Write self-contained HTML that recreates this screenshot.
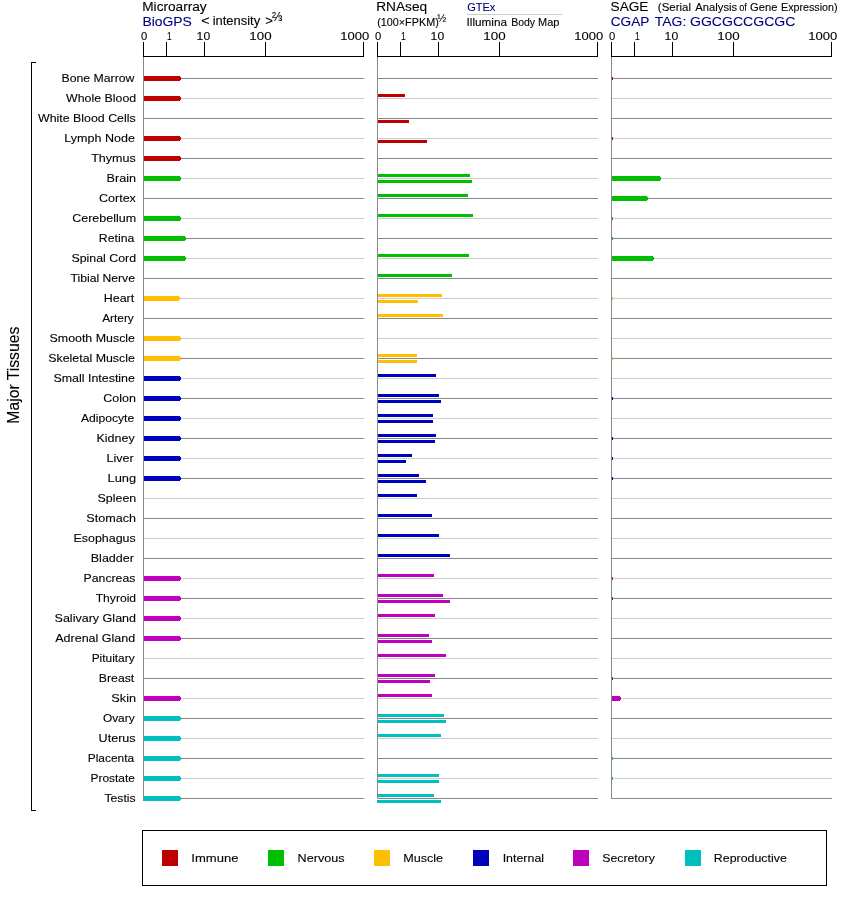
<!DOCTYPE html>
<html lang="en"><head><meta charset="utf-8"><title>Expression in Major Tissues</title>
<style>
html,body{margin:0;padding:0;background:#fff;}
svg{display:block;}
text{font-family:"Liberation Sans", Arial, Helvetica, sans-serif;white-space:pre;}
</style></head><body>
<svg width="842" height="900" viewBox="0 0 842 900">
<rect width="842" height="900" fill="#fff"/>
<g shape-rendering="crispEdges">
<rect x="31" y="62" width="1" height="749" fill="#000"/><rect x="31" y="62" width="5" height="1" fill="#000"/><rect x="31" y="810" width="5" height="1" fill="#000"/>
<rect x="467" y="14" width="95" height="1" fill="#cccccc"/>
<rect x="143" y="57" width="1" height="742" fill="#888888"/><rect x="144" y="78" width="220" height="1" fill="#888888"/><rect x="144" y="98" width="220" height="1" fill="#cccccc"/><rect x="144" y="118" width="220" height="1" fill="#888888"/><rect x="144" y="138" width="220" height="1" fill="#cccccc"/><rect x="144" y="158" width="220" height="1" fill="#888888"/><rect x="144" y="178" width="220" height="1" fill="#cccccc"/><rect x="144" y="198" width="220" height="1" fill="#888888"/><rect x="144" y="218" width="220" height="1" fill="#cccccc"/><rect x="144" y="238" width="220" height="1" fill="#888888"/><rect x="144" y="258" width="220" height="1" fill="#cccccc"/><rect x="144" y="278" width="220" height="1" fill="#888888"/><rect x="144" y="298" width="220" height="1" fill="#cccccc"/><rect x="144" y="318" width="220" height="1" fill="#888888"/><rect x="144" y="338" width="220" height="1" fill="#cccccc"/><rect x="144" y="358" width="220" height="1" fill="#888888"/><rect x="144" y="378" width="220" height="1" fill="#cccccc"/><rect x="144" y="398" width="220" height="1" fill="#888888"/><rect x="144" y="418" width="220" height="1" fill="#cccccc"/><rect x="144" y="438" width="220" height="1" fill="#888888"/><rect x="144" y="458" width="220" height="1" fill="#cccccc"/><rect x="144" y="478" width="220" height="1" fill="#888888"/><rect x="144" y="498" width="220" height="1" fill="#cccccc"/><rect x="144" y="518" width="220" height="1" fill="#888888"/><rect x="144" y="538" width="220" height="1" fill="#cccccc"/><rect x="144" y="558" width="220" height="1" fill="#888888"/><rect x="144" y="578" width="220" height="1" fill="#cccccc"/><rect x="144" y="598" width="220" height="1" fill="#888888"/><rect x="144" y="618" width="220" height="1" fill="#cccccc"/><rect x="144" y="638" width="220" height="1" fill="#888888"/><rect x="144" y="658" width="220" height="1" fill="#cccccc"/><rect x="144" y="678" width="220" height="1" fill="#888888"/><rect x="144" y="698" width="220" height="1" fill="#cccccc"/><rect x="144" y="718" width="220" height="1" fill="#888888"/><rect x="144" y="738" width="220" height="1" fill="#cccccc"/><rect x="144" y="758" width="220" height="1" fill="#888888"/><rect x="144" y="778" width="220" height="1" fill="#cccccc"/><rect x="144" y="798" width="220" height="1" fill="#888888"/><rect x="143" y="56" width="221" height="1" fill="#000"/><rect x="143" y="42" width="1" height="14" fill="#000"/><rect x="166" y="42" width="1" height="14" fill="#000"/><rect x="204" y="42" width="1" height="14" fill="#000"/><rect x="265" y="42" width="1" height="14" fill="#000"/><rect x="363" y="42" width="1" height="14" fill="#000"/>
<rect x="377" y="57" width="1" height="742" fill="#888888"/><rect x="378" y="78" width="220" height="1" fill="#888888"/><rect x="378" y="98" width="220" height="1" fill="#cccccc"/><rect x="378" y="118" width="220" height="1" fill="#888888"/><rect x="378" y="138" width="220" height="1" fill="#cccccc"/><rect x="378" y="158" width="220" height="1" fill="#888888"/><rect x="378" y="178" width="220" height="1" fill="#cccccc"/><rect x="378" y="198" width="220" height="1" fill="#888888"/><rect x="378" y="218" width="220" height="1" fill="#cccccc"/><rect x="378" y="238" width="220" height="1" fill="#888888"/><rect x="378" y="258" width="220" height="1" fill="#cccccc"/><rect x="378" y="278" width="220" height="1" fill="#888888"/><rect x="378" y="298" width="220" height="1" fill="#cccccc"/><rect x="378" y="318" width="220" height="1" fill="#888888"/><rect x="378" y="338" width="220" height="1" fill="#cccccc"/><rect x="378" y="358" width="220" height="1" fill="#888888"/><rect x="378" y="378" width="220" height="1" fill="#cccccc"/><rect x="378" y="398" width="220" height="1" fill="#888888"/><rect x="378" y="418" width="220" height="1" fill="#cccccc"/><rect x="378" y="438" width="220" height="1" fill="#888888"/><rect x="378" y="458" width="220" height="1" fill="#cccccc"/><rect x="378" y="478" width="220" height="1" fill="#888888"/><rect x="378" y="498" width="220" height="1" fill="#cccccc"/><rect x="378" y="518" width="220" height="1" fill="#888888"/><rect x="378" y="538" width="220" height="1" fill="#cccccc"/><rect x="378" y="558" width="220" height="1" fill="#888888"/><rect x="378" y="578" width="220" height="1" fill="#cccccc"/><rect x="378" y="598" width="220" height="1" fill="#888888"/><rect x="378" y="618" width="220" height="1" fill="#cccccc"/><rect x="378" y="638" width="220" height="1" fill="#888888"/><rect x="378" y="658" width="220" height="1" fill="#cccccc"/><rect x="378" y="678" width="220" height="1" fill="#888888"/><rect x="378" y="698" width="220" height="1" fill="#cccccc"/><rect x="378" y="718" width="220" height="1" fill="#888888"/><rect x="378" y="738" width="220" height="1" fill="#cccccc"/><rect x="378" y="758" width="220" height="1" fill="#888888"/><rect x="378" y="778" width="220" height="1" fill="#cccccc"/><rect x="378" y="798" width="220" height="1" fill="#888888"/><rect x="377" y="56" width="221" height="1" fill="#000"/><rect x="377" y="42" width="1" height="14" fill="#000"/><rect x="400" y="42" width="1" height="14" fill="#000"/><rect x="438" y="42" width="1" height="14" fill="#000"/><rect x="499" y="42" width="1" height="14" fill="#000"/><rect x="597" y="42" width="1" height="14" fill="#000"/>
<rect x="611" y="57" width="1" height="742" fill="#888888"/><rect x="612" y="78" width="220" height="1" fill="#888888"/><rect x="612" y="98" width="220" height="1" fill="#cccccc"/><rect x="612" y="118" width="220" height="1" fill="#888888"/><rect x="612" y="138" width="220" height="1" fill="#cccccc"/><rect x="612" y="158" width="220" height="1" fill="#888888"/><rect x="612" y="178" width="220" height="1" fill="#cccccc"/><rect x="612" y="198" width="220" height="1" fill="#888888"/><rect x="612" y="218" width="220" height="1" fill="#cccccc"/><rect x="612" y="238" width="220" height="1" fill="#888888"/><rect x="612" y="258" width="220" height="1" fill="#cccccc"/><rect x="612" y="278" width="220" height="1" fill="#888888"/><rect x="612" y="298" width="220" height="1" fill="#cccccc"/><rect x="612" y="318" width="220" height="1" fill="#888888"/><rect x="612" y="338" width="220" height="1" fill="#cccccc"/><rect x="612" y="358" width="220" height="1" fill="#888888"/><rect x="612" y="378" width="220" height="1" fill="#cccccc"/><rect x="612" y="398" width="220" height="1" fill="#888888"/><rect x="612" y="418" width="220" height="1" fill="#cccccc"/><rect x="612" y="438" width="220" height="1" fill="#888888"/><rect x="612" y="458" width="220" height="1" fill="#cccccc"/><rect x="612" y="478" width="220" height="1" fill="#888888"/><rect x="612" y="498" width="220" height="1" fill="#cccccc"/><rect x="612" y="518" width="220" height="1" fill="#888888"/><rect x="612" y="538" width="220" height="1" fill="#cccccc"/><rect x="612" y="558" width="220" height="1" fill="#888888"/><rect x="612" y="578" width="220" height="1" fill="#cccccc"/><rect x="612" y="598" width="220" height="1" fill="#888888"/><rect x="612" y="618" width="220" height="1" fill="#cccccc"/><rect x="612" y="638" width="220" height="1" fill="#888888"/><rect x="612" y="658" width="220" height="1" fill="#cccccc"/><rect x="612" y="678" width="220" height="1" fill="#888888"/><rect x="612" y="698" width="220" height="1" fill="#cccccc"/><rect x="612" y="718" width="220" height="1" fill="#888888"/><rect x="612" y="738" width="220" height="1" fill="#cccccc"/><rect x="612" y="758" width="220" height="1" fill="#888888"/><rect x="612" y="778" width="220" height="1" fill="#cccccc"/><rect x="612" y="798" width="220" height="1" fill="#888888"/><rect x="611" y="56" width="221" height="1" fill="#000"/><rect x="611" y="42" width="1" height="14" fill="#000"/><rect x="634" y="42" width="1" height="14" fill="#000"/><rect x="672" y="42" width="1" height="14" fill="#000"/><rect x="733" y="42" width="1" height="14" fill="#000"/><rect x="831" y="42" width="1" height="14" fill="#000"/>
<rect x="144" y="76" width="36" height="5" fill="#bf0000"/><rect x="180" y="77" width="1" height="3" fill="#bf0000"/><rect x="612" y="77" width="1" height="3" fill="#bf0000"/>
<rect x="144" y="96" width="36" height="5" fill="#bf0000"/><rect x="180" y="97" width="1" height="3" fill="#bf0000"/><rect x="378" y="94" width="27" height="3" fill="#bf0000"/>
<rect x="378" y="120" width="31" height="3" fill="#bf0000"/>
<rect x="144" y="136" width="36" height="5" fill="#bf0000"/><rect x="180" y="137" width="1" height="3" fill="#bf0000"/><rect x="378" y="140" width="49" height="3" fill="#bf0000"/><rect x="612" y="137" width="1" height="3" fill="#bf0000"/>
<rect x="144" y="156" width="36" height="5" fill="#bf0000"/><rect x="180" y="157" width="1" height="3" fill="#bf0000"/>
<rect x="144" y="176" width="36" height="5" fill="#00bf00"/><rect x="180" y="177" width="1" height="3" fill="#00bf00"/><rect x="378" y="174" width="92" height="3" fill="#00bf00"/><rect x="378" y="180" width="94" height="3" fill="#00bf00"/><rect x="612" y="176" width="48" height="5" fill="#00bf00"/><rect x="660" y="177" width="1" height="3" fill="#00bf00"/>
<rect x="378" y="194" width="90" height="3" fill="#00bf00"/><rect x="612" y="196" width="35" height="5" fill="#00bf00"/><rect x="647" y="197" width="1" height="3" fill="#00bf00"/>
<rect x="144" y="216" width="36" height="5" fill="#00bf00"/><rect x="180" y="217" width="1" height="3" fill="#00bf00"/><rect x="378" y="214" width="95" height="3" fill="#00bf00"/><rect x="612" y="217" width="1" height="3" fill="#00bf00"/>
<rect x="144" y="236" width="41" height="5" fill="#00bf00"/><rect x="185" y="237" width="1" height="3" fill="#00bf00"/><rect x="612" y="237" width="1" height="3" fill="#00bf00"/>
<rect x="144" y="256" width="41" height="5" fill="#00bf00"/><rect x="185" y="257" width="1" height="3" fill="#00bf00"/><rect x="378" y="254" width="91" height="3" fill="#00bf00"/><rect x="612" y="256" width="41" height="5" fill="#00bf00"/><rect x="653" y="257" width="1" height="3" fill="#00bf00"/>
<rect x="378" y="274" width="74" height="3" fill="#00bf00"/>
<rect x="144" y="296" width="35" height="5" fill="#ffbf00"/><rect x="179" y="297" width="1" height="3" fill="#ffbf00"/><rect x="378" y="294" width="64" height="3" fill="#ffbf00"/><rect x="378" y="300" width="40" height="3" fill="#ffbf00"/><rect x="612" y="297" width="1" height="3" fill="#ffbf00"/>
<rect x="378" y="314" width="65" height="3" fill="#ffbf00"/>
<rect x="144" y="336" width="36" height="5" fill="#ffbf00"/><rect x="180" y="337" width="1" height="3" fill="#ffbf00"/>
<rect x="144" y="356" width="36" height="5" fill="#ffbf00"/><rect x="180" y="357" width="1" height="3" fill="#ffbf00"/><rect x="378" y="354" width="39" height="3" fill="#ffbf00"/><rect x="378" y="360" width="39" height="3" fill="#ffbf00"/><rect x="612" y="357" width="1" height="3" fill="#ffbf00"/>
<rect x="144" y="376" width="36" height="5" fill="#0000bf"/><rect x="180" y="377" width="1" height="3" fill="#0000bf"/><rect x="378" y="374" width="58" height="3" fill="#0000bf"/>
<rect x="144" y="396" width="36" height="5" fill="#0000bf"/><rect x="180" y="397" width="1" height="3" fill="#0000bf"/><rect x="378" y="394" width="61" height="3" fill="#0000bf"/><rect x="378" y="400" width="63" height="3" fill="#0000bf"/><rect x="612" y="397" width="1" height="3" fill="#0000bf"/>
<rect x="144" y="416" width="36" height="5" fill="#0000bf"/><rect x="180" y="417" width="1" height="3" fill="#0000bf"/><rect x="378" y="414" width="55" height="3" fill="#0000bf"/><rect x="378" y="420" width="55" height="3" fill="#0000bf"/>
<rect x="144" y="436" width="36" height="5" fill="#0000bf"/><rect x="180" y="437" width="1" height="3" fill="#0000bf"/><rect x="378" y="434" width="58" height="3" fill="#0000bf"/><rect x="378" y="440" width="57" height="3" fill="#0000bf"/><rect x="612" y="437" width="1" height="3" fill="#0000bf"/>
<rect x="144" y="456" width="36" height="5" fill="#0000bf"/><rect x="180" y="457" width="1" height="3" fill="#0000bf"/><rect x="378" y="454" width="34" height="3" fill="#0000bf"/><rect x="378" y="460" width="28" height="3" fill="#0000bf"/><rect x="612" y="457" width="1" height="3" fill="#0000bf"/>
<rect x="144" y="476" width="36" height="5" fill="#0000bf"/><rect x="180" y="477" width="1" height="3" fill="#0000bf"/><rect x="378" y="474" width="41" height="3" fill="#0000bf"/><rect x="378" y="480" width="48" height="3" fill="#0000bf"/><rect x="612" y="477" width="1" height="3" fill="#0000bf"/>
<rect x="378" y="494" width="39" height="3" fill="#0000bf"/>
<rect x="378" y="514" width="54" height="3" fill="#0000bf"/>
<rect x="378" y="534" width="61" height="3" fill="#0000bf"/>
<rect x="378" y="554" width="72" height="3" fill="#0000bf"/>
<rect x="144" y="576" width="36" height="5" fill="#bf00bf"/><rect x="180" y="577" width="1" height="3" fill="#bf00bf"/><rect x="378" y="574" width="56" height="3" fill="#bf00bf"/><rect x="612" y="577" width="1" height="3" fill="#bf00bf"/>
<rect x="144" y="596" width="36" height="5" fill="#bf00bf"/><rect x="180" y="597" width="1" height="3" fill="#bf00bf"/><rect x="378" y="594" width="65" height="3" fill="#bf00bf"/><rect x="378" y="600" width="72" height="3" fill="#bf00bf"/><rect x="612" y="597" width="1" height="3" fill="#bf00bf"/>
<rect x="144" y="616" width="36" height="5" fill="#bf00bf"/><rect x="180" y="617" width="1" height="3" fill="#bf00bf"/><rect x="378" y="614" width="57" height="3" fill="#bf00bf"/>
<rect x="144" y="636" width="36" height="5" fill="#bf00bf"/><rect x="180" y="637" width="1" height="3" fill="#bf00bf"/><rect x="378" y="634" width="51" height="3" fill="#bf00bf"/><rect x="378" y="640" width="54" height="3" fill="#bf00bf"/>
<rect x="378" y="654" width="68" height="3" fill="#bf00bf"/>
<rect x="378" y="674" width="57" height="3" fill="#bf00bf"/><rect x="378" y="680" width="52" height="3" fill="#bf00bf"/><rect x="612" y="677" width="1" height="3" fill="#bf00bf"/>
<rect x="144" y="696" width="36" height="5" fill="#bf00bf"/><rect x="180" y="697" width="1" height="3" fill="#bf00bf"/><rect x="378" y="694" width="54" height="3" fill="#bf00bf"/><rect x="612" y="696" width="8" height="5" fill="#bf00bf"/><rect x="620" y="697" width="1" height="3" fill="#bf00bf"/>
<rect x="144" y="716" width="36" height="5" fill="#00bfbf"/><rect x="180" y="717" width="1" height="3" fill="#00bfbf"/><rect x="378" y="714" width="66" height="3" fill="#00bfbf"/><rect x="378" y="720" width="68" height="3" fill="#00bfbf"/>
<rect x="144" y="736" width="36" height="5" fill="#00bfbf"/><rect x="180" y="737" width="1" height="3" fill="#00bfbf"/><rect x="378" y="734" width="63" height="3" fill="#00bfbf"/>
<rect x="144" y="756" width="36" height="5" fill="#00bfbf"/><rect x="180" y="757" width="1" height="3" fill="#00bfbf"/><rect x="612" y="757" width="1" height="3" fill="#00bfbf"/>
<rect x="144" y="776" width="36" height="5" fill="#00bfbf"/><rect x="180" y="777" width="1" height="3" fill="#00bfbf"/><rect x="378" y="774" width="61" height="3" fill="#00bfbf"/><rect x="378" y="780" width="61" height="3" fill="#00bfbf"/><rect x="612" y="777" width="1" height="3" fill="#00bfbf"/>
<rect x="144" y="796" width="36" height="5" fill="#00bfbf"/><rect x="180" y="797" width="1" height="3" fill="#00bfbf"/><rect x="143" y="798" width="1" height="3" fill="#00bfbf"/><rect x="378" y="794" width="56" height="3" fill="#00bfbf"/><rect x="377" y="800" width="64" height="3" fill="#00bfbf"/>
<rect x="142.5" y="830.5" width="684" height="55" fill="none" stroke="#000" stroke-width="1"/>
<rect x="162" y="850" width="16" height="16" fill="#bf0000"/><rect x="268" y="850" width="16" height="16" fill="#00bf00"/><rect x="374" y="850" width="16" height="16" fill="#ffbf00"/><rect x="473" y="850" width="16" height="16" fill="#0000bf"/><rect x="573" y="850" width="16" height="16" fill="#bf00bf"/><rect x="685" y="850" width="16" height="16" fill="#00bfbf"/>
</g>
<text id="h1" x="142.25" y="11" font-size="12" fill="#000" stroke="#000" stroke-width="0.1" textLength="64.44" lengthAdjust="spacingAndGlyphs">Microarray</text>
<text id="h1b" x="142.43" y="26" font-size="12" fill="#000080" stroke="#000080" stroke-width="0.1" textLength="49.47" lengthAdjust="spacingAndGlyphs">BioGPS</text>
<text y="25" font-size="12" fill="#000" stroke="#000" stroke-width="0.1"><tspan id="h1c1" x="201.24" textLength="8.31" lengthAdjust="spacingAndGlyphs">&lt;</tspan> <tspan id="h1c2" x="212.70" textLength="47.50" lengthAdjust="spacingAndGlyphs">intensity</tspan> <tspan id="h1c3" x="265.19" textLength="7.64" lengthAdjust="spacingAndGlyphs">&gt;</tspan></text>
<text id="h1d" x="272.12" y="21" font-size="12" fill="#000" stroke="#000" stroke-width="0.1" textLength="10.25" lengthAdjust="spacingAndGlyphs">⅔</text>
<text id="h2" x="376.21" y="11" font-size="12" fill="#000" stroke="#000" stroke-width="0.1" textLength="50.95" lengthAdjust="spacingAndGlyphs">RNAseq</text>
<text id="h2b" x="377.15" y="26" font-size="10.67" fill="#000" stroke="#000" stroke-width="0.1" textLength="61.65" lengthAdjust="spacingAndGlyphs">(100×FPKM)</text>
<text id="h2c" x="437.35" y="22" font-size="10.67" fill="#000" stroke="#000" stroke-width="0.1" textLength="9.04" lengthAdjust="spacingAndGlyphs">½</text>
<text id="h2d" x="467.19" y="11" font-size="10.67" fill="#000080" stroke="#000080" stroke-width="0.1" textLength="28.16" lengthAdjust="spacingAndGlyphs">GTEx</text>
<text y="26" font-size="10.67" fill="#000" stroke="#000" stroke-width="0.1"><tspan id="h2e1" x="466.52" textLength="40.44" lengthAdjust="spacingAndGlyphs">Illumina</tspan> <tspan id="h2e2" x="511.13" textLength="23.97" lengthAdjust="spacingAndGlyphs">Body</tspan> <tspan id="h2e3" x="538.01" textLength="21.39" lengthAdjust="spacingAndGlyphs">Map</tspan></text>
<text id="h3" x="610.56" y="11" font-size="12" fill="#000" stroke="#000" stroke-width="0.1" textLength="37.95" lengthAdjust="spacingAndGlyphs">SAGE</text>
<text y="11" font-size="10.67" fill="#000" stroke="#000" stroke-width="0.1"><tspan id="h3b1" x="657.89" textLength="33.18" lengthAdjust="spacingAndGlyphs">(Serial</tspan> <tspan id="h3b2" x="695.32" textLength="41.79" lengthAdjust="spacingAndGlyphs">Analysis</tspan> <tspan id="h3b3" x="739.26" textLength="7.55" lengthAdjust="spacingAndGlyphs">of</tspan> <tspan id="h3b4" x="750.14" textLength="27.26" lengthAdjust="spacingAndGlyphs">Gene</tspan> <tspan id="h3b5" x="781.01" textLength="56.58" lengthAdjust="spacingAndGlyphs">Expression)</tspan></text>
<text y="26" font-size="12" fill="#000080" stroke="#000080" stroke-width="0.1"><tspan id="h3c1" x="610.77" textLength="38.34" lengthAdjust="spacingAndGlyphs">CGAP</tspan> <tspan id="h3c2" x="654.82" textLength="31.49" lengthAdjust="spacingAndGlyphs">TAG:</tspan> <tspan id="h3c3" x="689.97" textLength="105.47" lengthAdjust="spacingAndGlyphs">GGCGCCGCGC</tspan></text>
<text id="lgI" x="191.30" y="862" font-size="11" fill="#000" stroke="#000" stroke-width="0.1" textLength="47.13" lengthAdjust="spacingAndGlyphs">Immune</text>
<text id="lgN" x="297.59" y="862" font-size="11" fill="#000" stroke="#000" stroke-width="0.1" textLength="46.95" lengthAdjust="spacingAndGlyphs">Nervous</text>
<text id="lgM" x="403.16" y="862" font-size="11" fill="#000" stroke="#000" stroke-width="0.1" textLength="39.94" lengthAdjust="spacingAndGlyphs">Muscle</text>
<text id="lgT" x="502.65" y="862" font-size="11" fill="#000" stroke="#000" stroke-width="0.1" textLength="41.44" lengthAdjust="spacingAndGlyphs">Internal</text>
<text id="lgS" x="602.20" y="862" font-size="11" fill="#000" stroke="#000" stroke-width="0.1" textLength="52.63" lengthAdjust="spacingAndGlyphs">Secretory</text>
<text id="lgR" x="713.88" y="862" font-size="11" fill="#000" stroke="#000" stroke-width="0.1" textLength="72.91" lengthAdjust="spacingAndGlyphs">Reproductive</text>
<text id="ax0_0" x="141.06" y="40" font-size="11" fill="#000" stroke="#000" stroke-width="0.1" textLength="6.26" lengthAdjust="spacingAndGlyphs">0</text>
<text id="ax0_1" x="166.97" y="40" font-size="11" fill="#000" stroke="#000" stroke-width="0.1" textLength="4.69" lengthAdjust="spacingAndGlyphs">1</text>
<text id="ax0_10" x="196.62" y="40" font-size="11" fill="#000" stroke="#000" stroke-width="0.1" textLength="13.55" lengthAdjust="spacingAndGlyphs">10</text>
<text id="ax0_100" x="249.34" y="40" font-size="11" fill="#000" stroke="#000" stroke-width="0.1" textLength="22.26" lengthAdjust="spacingAndGlyphs">100</text>
<text id="ax0_1000" x="340.17" y="40" font-size="11" fill="#000" stroke="#000" stroke-width="0.1" textLength="28.99" lengthAdjust="spacingAndGlyphs">1000</text>
<text id="ax1_0" x="375.06" y="40" font-size="11" fill="#000" stroke="#000" stroke-width="0.1" textLength="6.26" lengthAdjust="spacingAndGlyphs">0</text>
<text id="ax1_1" x="400.97" y="40" font-size="11" fill="#000" stroke="#000" stroke-width="0.1" textLength="4.69" lengthAdjust="spacingAndGlyphs">1</text>
<text id="ax1_10" x="430.62" y="40" font-size="11" fill="#000" stroke="#000" stroke-width="0.1" textLength="13.55" lengthAdjust="spacingAndGlyphs">10</text>
<text id="ax1_100" x="483.34" y="40" font-size="11" fill="#000" stroke="#000" stroke-width="0.1" textLength="22.26" lengthAdjust="spacingAndGlyphs">100</text>
<text id="ax1_1000" x="574.17" y="40" font-size="11" fill="#000" stroke="#000" stroke-width="0.1" textLength="28.99" lengthAdjust="spacingAndGlyphs">1000</text>
<text id="ax2_0" x="609.06" y="40" font-size="11" fill="#000" stroke="#000" stroke-width="0.1" textLength="6.26" lengthAdjust="spacingAndGlyphs">0</text>
<text id="ax2_1" x="634.97" y="40" font-size="11" fill="#000" stroke="#000" stroke-width="0.1" textLength="4.69" lengthAdjust="spacingAndGlyphs">1</text>
<text id="ax2_10" x="664.62" y="40" font-size="11" fill="#000" stroke="#000" stroke-width="0.1" textLength="13.55" lengthAdjust="spacingAndGlyphs">10</text>
<text id="ax2_100" x="717.34" y="40" font-size="11" fill="#000" stroke="#000" stroke-width="0.1" textLength="22.26" lengthAdjust="spacingAndGlyphs">100</text>
<text id="ax2_1000" x="808.17" y="40" font-size="11" fill="#000" stroke="#000" stroke-width="0.1" textLength="28.99" lengthAdjust="spacingAndGlyphs">1000</text>
<text id="row0" x="61.52" y="82" font-size="11" fill="#000" stroke="#000" stroke-width="0.1" textLength="72.90" lengthAdjust="spacingAndGlyphs">Bone Marrow</text>
<text id="row1" x="66.09" y="102" font-size="11" fill="#000" stroke="#000" stroke-width="0.1" textLength="70.07" lengthAdjust="spacingAndGlyphs">Whole Blood</text>
<text id="row2" x="38.09" y="122" font-size="11" fill="#000" stroke="#000" stroke-width="0.1" textLength="97.58" lengthAdjust="spacingAndGlyphs">White Blood Cells</text>
<text id="row3" x="64.36" y="142" font-size="11" fill="#000" stroke="#000" stroke-width="0.1" textLength="70.54" lengthAdjust="spacingAndGlyphs">Lymph Node</text>
<text id="row4" x="91.23" y="162" font-size="11" fill="#000" stroke="#000" stroke-width="0.1" textLength="44.56" lengthAdjust="spacingAndGlyphs">Thymus</text>
<text id="row5" x="106.59" y="182" font-size="11" fill="#000" stroke="#000" stroke-width="0.1" textLength="29.55" lengthAdjust="spacingAndGlyphs">Brain</text>
<text id="row6" x="99.03" y="202" font-size="11" fill="#000" stroke="#000" stroke-width="0.1" textLength="36.84" lengthAdjust="spacingAndGlyphs">Cortex</text>
<text id="row7" x="72.17" y="222" font-size="11" fill="#000" stroke="#000" stroke-width="0.1" textLength="63.98" lengthAdjust="spacingAndGlyphs">Cerebellum</text>
<text id="row8" x="98.78" y="242" font-size="11" fill="#000" stroke="#000" stroke-width="0.1" textLength="35.54" lengthAdjust="spacingAndGlyphs">Retina</text>
<text id="row9" x="71.45" y="262" font-size="11" fill="#000" stroke="#000" stroke-width="0.1" textLength="64.69" lengthAdjust="spacingAndGlyphs">Spinal Cord</text>
<text id="row10" x="70.54" y="282" font-size="11" fill="#000" stroke="#000" stroke-width="0.1" textLength="64.44" lengthAdjust="spacingAndGlyphs">Tibial Nerve</text>
<text id="row11" x="103.73" y="302" font-size="11" fill="#000" stroke="#000" stroke-width="0.1" textLength="30.48" lengthAdjust="spacingAndGlyphs">Heart</text>
<text id="row12" x="102.20" y="322" font-size="11" fill="#000" stroke="#000" stroke-width="0.1" textLength="31.58" lengthAdjust="spacingAndGlyphs">Artery</text>
<text id="row13" x="49.54" y="342" font-size="11" fill="#000" stroke="#000" stroke-width="0.1" textLength="85.46" lengthAdjust="spacingAndGlyphs">Smooth Muscle</text>
<text id="row14" x="48.30" y="362" font-size="11" fill="#000" stroke="#000" stroke-width="0.1" textLength="86.57" lengthAdjust="spacingAndGlyphs">Skeletal Muscle</text>
<text id="row15" x="53.40" y="382" font-size="11" fill="#000" stroke="#000" stroke-width="0.1" textLength="81.55" lengthAdjust="spacingAndGlyphs">Small Intestine</text>
<text id="row16" x="103.25" y="402" font-size="11" fill="#000" stroke="#000" stroke-width="0.1" textLength="32.71" lengthAdjust="spacingAndGlyphs">Colon</text>
<text id="row17" x="80.91" y="422" font-size="11" fill="#000" stroke="#000" stroke-width="0.1" textLength="53.26" lengthAdjust="spacingAndGlyphs">Adipocyte</text>
<text id="row18" x="96.53" y="442" font-size="11" fill="#000" stroke="#000" stroke-width="0.1" textLength="38.18" lengthAdjust="spacingAndGlyphs">Kidney</text>
<text id="row19" x="106.47" y="462" font-size="11" fill="#000" stroke="#000" stroke-width="0.1" textLength="27.34" lengthAdjust="spacingAndGlyphs">Liver</text>
<text id="row20" x="107.50" y="482" font-size="11" fill="#000" stroke="#000" stroke-width="0.1" textLength="28.61" lengthAdjust="spacingAndGlyphs">Lung</text>
<text id="row21" x="97.56" y="502" font-size="11" fill="#000" stroke="#000" stroke-width="0.1" textLength="38.67" lengthAdjust="spacingAndGlyphs">Spleen</text>
<text id="row22" x="86.34" y="522" font-size="11" fill="#000" stroke="#000" stroke-width="0.1" textLength="49.79" lengthAdjust="spacingAndGlyphs">Stomach</text>
<text id="row23" x="73.50" y="542" font-size="11" fill="#000" stroke="#000" stroke-width="0.1" textLength="62.27" lengthAdjust="spacingAndGlyphs">Esophagus</text>
<text id="row24" x="90.78" y="562" font-size="11" fill="#000" stroke="#000" stroke-width="0.1" textLength="43.18" lengthAdjust="spacingAndGlyphs">Bladder</text>
<text id="row25" x="83.58" y="582" font-size="11" fill="#000" stroke="#000" stroke-width="0.1" textLength="51.77" lengthAdjust="spacingAndGlyphs">Pancreas</text>
<text id="row26" x="95.72" y="602" font-size="11" fill="#000" stroke="#000" stroke-width="0.1" textLength="40.37" lengthAdjust="spacingAndGlyphs">Thyroid</text>
<text id="row27" x="54.53" y="622" font-size="11" fill="#000" stroke="#000" stroke-width="0.1" textLength="81.55" lengthAdjust="spacingAndGlyphs">Salivary Gland</text>
<text id="row28" x="55.21" y="642" font-size="11" fill="#000" stroke="#000" stroke-width="0.1" textLength="80.05" lengthAdjust="spacingAndGlyphs">Adrenal Gland</text>
<text id="row29" x="91.67" y="662" font-size="11" fill="#000" stroke="#000" stroke-width="0.1" textLength="43.02" lengthAdjust="spacingAndGlyphs">Pituitary</text>
<text id="row30" x="98.86" y="682" font-size="11" fill="#000" stroke="#000" stroke-width="0.1" textLength="35.34" lengthAdjust="spacingAndGlyphs">Breast</text>
<text id="row31" x="111.30" y="702" font-size="11" fill="#000" stroke="#000" stroke-width="0.1" textLength="24.80" lengthAdjust="spacingAndGlyphs">Skin</text>
<text id="row32" x="102.95" y="722" font-size="11" fill="#000" stroke="#000" stroke-width="0.1" textLength="31.64" lengthAdjust="spacingAndGlyphs">Ovary</text>
<text id="row33" x="98.61" y="742" font-size="11" fill="#000" stroke="#000" stroke-width="0.1" textLength="37.04" lengthAdjust="spacingAndGlyphs">Uterus</text>
<text id="row34" x="87.79" y="762" font-size="11" fill="#000" stroke="#000" stroke-width="0.1" textLength="46.37" lengthAdjust="spacingAndGlyphs">Placenta</text>
<text id="row35" x="90.53" y="782" font-size="11" fill="#000" stroke="#000" stroke-width="0.1" textLength="44.39" lengthAdjust="spacingAndGlyphs">Prostate</text>
<text id="row36" x="104.54" y="802" font-size="11" fill="#000" stroke="#000" stroke-width="0.1" textLength="31.09" lengthAdjust="spacingAndGlyphs">Testis</text>
<text id="major" transform="translate(19,423.70) rotate(-90)" font-size="16" fill="#000" stroke="#000" stroke-width="0.1" textLength="97.00" lengthAdjust="spacingAndGlyphs">Major Tissues</text>
</svg>
</body></html>
